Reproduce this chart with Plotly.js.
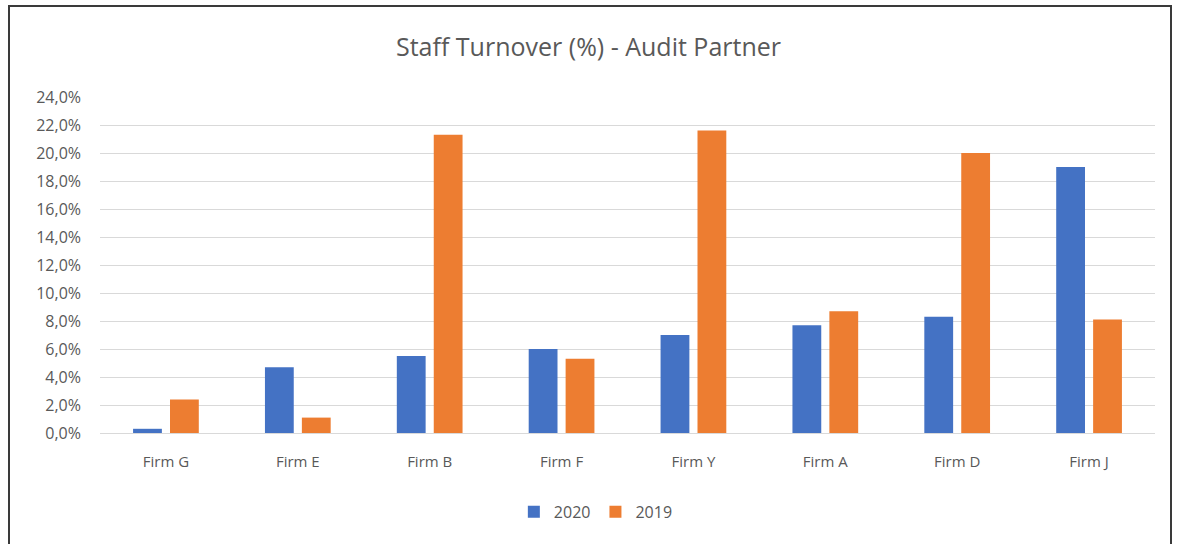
<!DOCTYPE html>
<html>
<head>
<meta charset="utf-8">
<script src="https://cdn.plot.ly/plotly-3.0.1.min.js"></script>
<style>
  html, body { margin: 0; padding: 0; background: #ffffff; }
  #chart { width: 1177px; height: 544px; position: absolute; left: 0; top: 0; }
  #frame { position: absolute; left: 8px; top: 5px; width: 1164px; height: 545px; border: 2px solid #3a3a3a; box-sizing: border-box; pointer-events: none; }
</style>
</head>
<body>
<div id="chart"></div>
<div id="frame"></div>
<script>
const firms = ["Firm G", "Firm E", "Firm B", "Firm F", "Firm Y", "Firm A", "Firm D", "Firm J"];
const values2020 = [0.3, 4.7, 5.5, 6.0, 7.0, 7.7, 8.3, 19.0];
const values2019 = [2.4, 1.1, 21.3, 5.3, 21.6, 8.7, 20.0, 8.1];
const yTicks = [0, 2, 4, 6, 8, 10, 12, 14, 16, 18, 20, 22, 24];
const yTickLabels = yTicks.map(v => v.toFixed(1).replace(".", ",") + "%");

const txtColor = "#595959";
const fontFam = "'Open Sans', 'Noto Sans', sans-serif";

const data = [
  { type: "bar", name: "2020", x: firms, y: values2020, marker: { color: "#4472c4" } },
  { type: "bar", name: "2019", x: firms, y: values2019, marker: { color: "#ed7d31" } }
];

const layout = {
  width: 1177, height: 544,
  paper_bgcolor: "#ffffff", plot_bgcolor: "#ffffff",
  margin: { l: 100, r: 22, t: 97, b: 111 },
  title: { text: "Staff Turnover (%) - Audit Partner", x: 0.5, xanchor: "center", y: 0.913, yanchor: "middle",
           font: { family: fontFam, size: 25, color: txtColor } },
  barmode: "group",
  bargap: 0.44,
  bargroupgap: 0.22,
  font: { family: fontFam, size: 15, color: txtColor },
  xaxis: { tickfont: { family: fontFam, size: 15, color: txtColor }, showline: false, ticks: "", showgrid: false,
           ticklabelstandoff: 18 },
  yaxis: { range: [0, 24], tickvals: yTicks, ticktext: yTickLabels,
           gridcolor: "#d9d9d9", gridwidth: 1, zeroline: true, zerolinecolor: "#d9d9d9", zerolinewidth: 1,
           showline: false, ticks: "", tickfont: { family: fontFam, size: 16, color: txtColor }, ticklabelstandoff: 18 },
  legend: { orientation: "h", x: 0.47, xanchor: "center", y: -0.235, yanchor: "middle",
            font: { family: fontFam, size: 16, color: txtColor }, itemwidth: 30 },
  showlegend: true
};

Plotly.newPlot("chart", data, layout, { displayModeBar: false, staticPlot: true });
</script>
</body>
</html>
